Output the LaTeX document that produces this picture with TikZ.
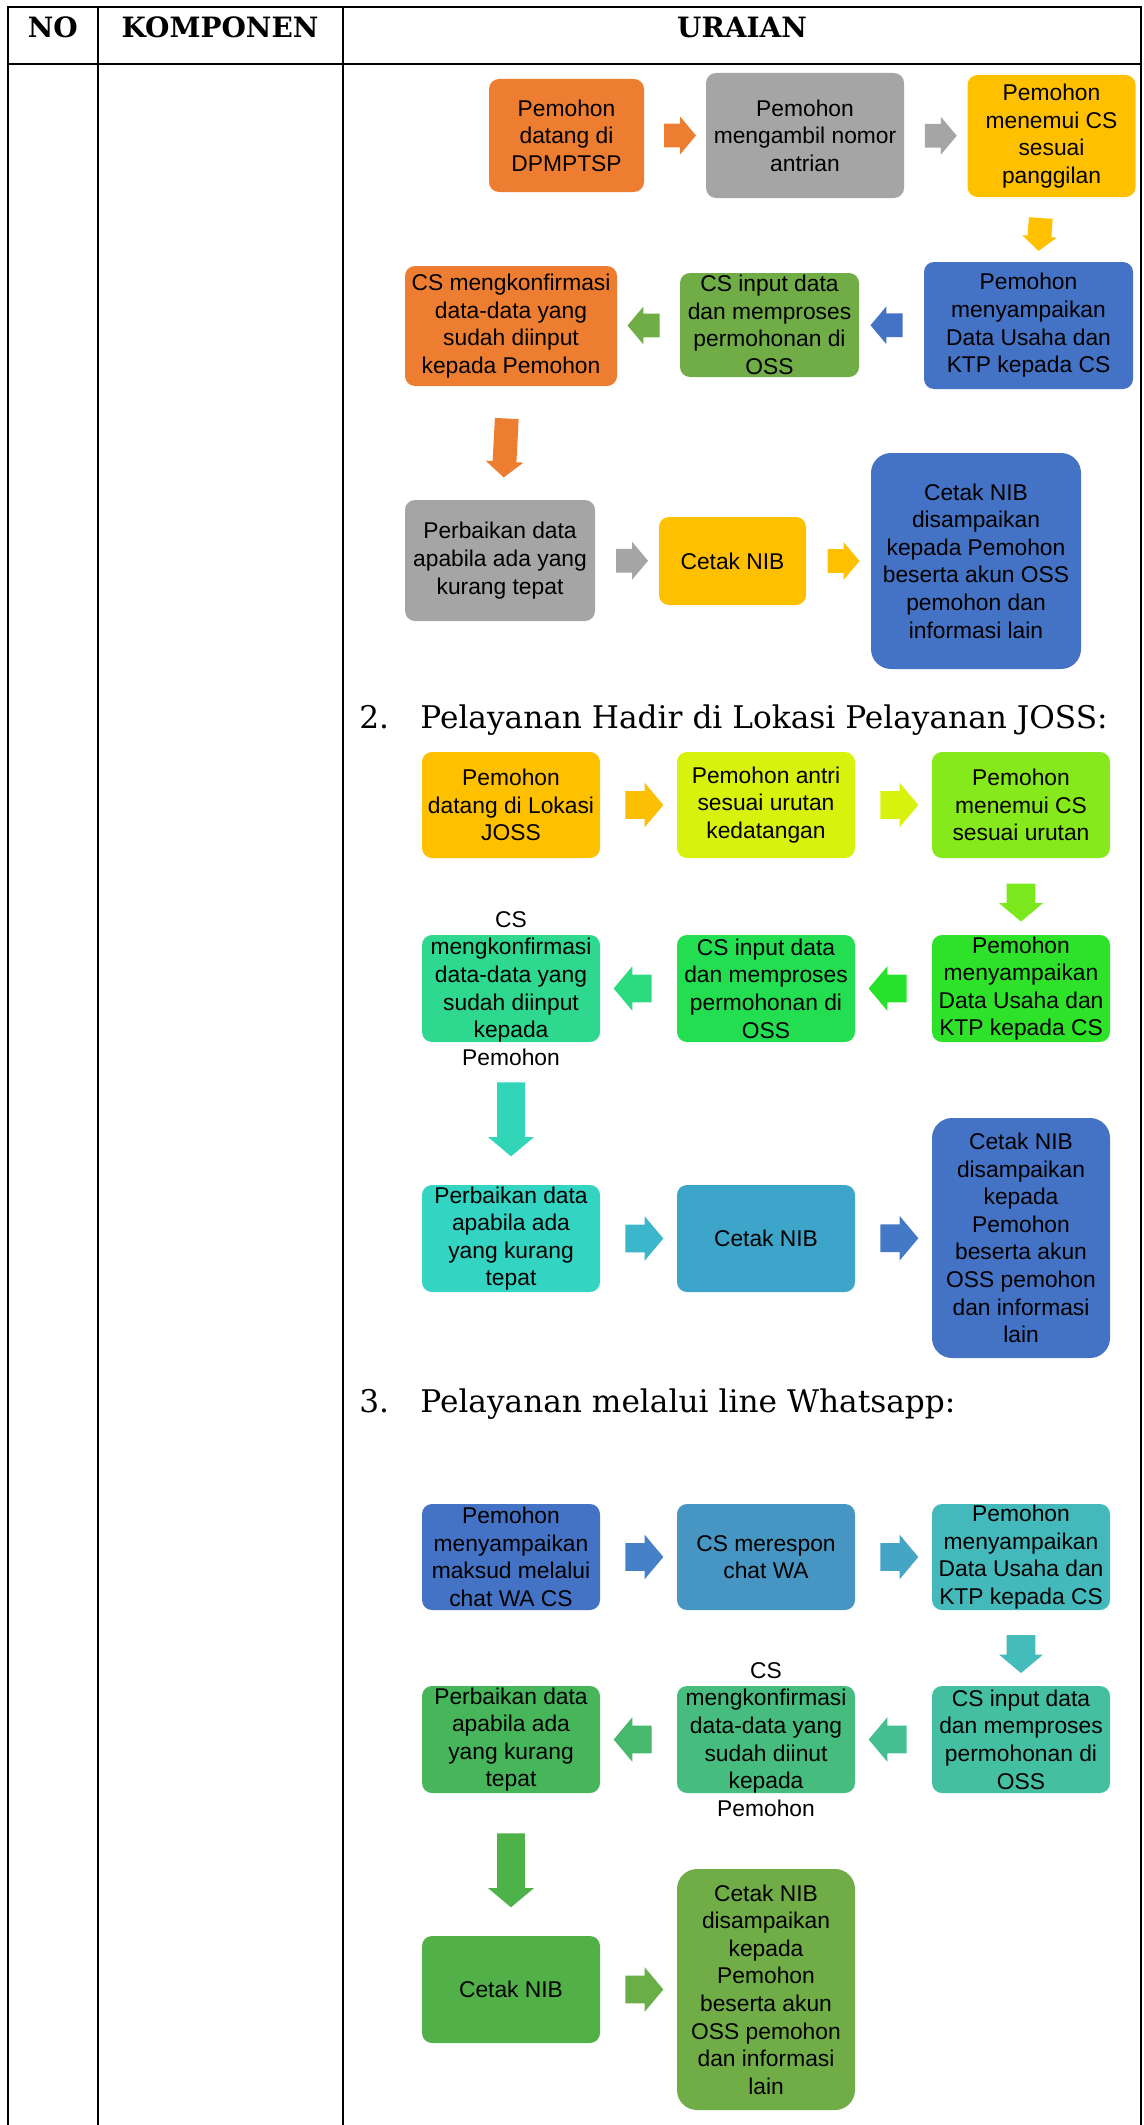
\documentclass[tikz,border=0pt]{standalone}
\usepackage{fontspec}
\setmainfont{Liberation Sans}
\newfontfamily\docserif{DejaVu Serif}
\usetikzlibrary{shapes.arrows,calc}

% office palette
\definecolor{pOrange}{HTML}{ED7D31}
\definecolor{pGray}{HTML}{A5A5A5}
\definecolor{pAmber}{HTML}{FFC000}
\definecolor{pBlue}{HTML}{4472C4}
\definecolor{pGreen}{HTML}{70AD47}
% second flow
\definecolor{sA}{HTML}{FFC000}
\definecolor{sB}{HTML}{D8F20E}
\definecolor{sC}{HTML}{86E91B}
\definecolor{sD}{HTML}{2EE22A}
\definecolor{sE}{HTML}{23DE50}
\definecolor{sF}{HTML}{2ED88E}
\definecolor{sG}{HTML}{33D4C2}
\definecolor{sH}{HTML}{3DA4CA}
\definecolor{sI}{HTML}{4472C4}
\definecolor{saA}{HTML}{FDBF06}
\definecolor{saB}{HTML}{D9F20D}
\definecolor{saC}{HTML}{7BE81D}
\definecolor{saD}{HTML}{26E22A}
\definecolor{saE}{HTML}{2CDA7F}
\definecolor{saF}{HTML}{33D5B8}
\definecolor{saG}{HTML}{3BB6CB}
\definecolor{saH}{HTML}{4379C6}
% third flow
\definecolor{tA}{HTML}{4472C4}
\definecolor{tB}{HTML}{4795C2}
\definecolor{tC}{HTML}{43B9BB}
\definecolor{tD}{HTML}{44BFA2}
\definecolor{tE}{HTML}{46BC7E}
\definecolor{tF}{HTML}{47B65A}
\definecolor{tG}{HTML}{51B048}
\definecolor{tH}{HTML}{70AD47}
\definecolor{taA}{HTML}{4680C6}
\definecolor{taB}{HTML}{45A5C5}
\definecolor{taC}{HTML}{44BCBC}
\definecolor{taD}{HTML}{45BE91}
\definecolor{taE}{HTML}{48B86C}
\definecolor{taF}{HTML}{4DB24A}
\definecolor{taG}{HTML}{6AAE47}

\tikzset{
  flowbox/.style={rectangle, draw=none, rounded corners=5pt, inner sep=0pt},
  tallbox/.style={flowbox, rounded corners=10pt},
  boxtext/.style={align=center, inner sep=0pt, text=black,
                  font=\fontsize{11.4}{13.8}\selectfont},
  headtext/.style={anchor=base, inner sep=0pt, font=\docserif\bfseries\fontsize{14}{16}\selectfont},
  sectext/.style={anchor=base west, inner sep=0pt, font=\docserif\fontsize{15.6}{18}\selectfont},
  % block arrow: the shaft width is twice the inner ysep
  blockarrow/.style={single arrow, draw=none, inner xsep=0pt,
                     single arrow head indent=0pt, single arrow tip angle=100},
  arrowS/.style={blockarrow, inner ysep=5.75pt, minimum height=16pt, minimum width=18.5pt, single arrow head extend=3.5pt},
  arrowSd/.style={blockarrow, inner ysep=5.75pt, minimum height=16.5pt, minimum width=17pt, single arrow head extend=2.75pt},
  arrowSl/.style={blockarrow, inner ysep=5.75pt, minimum height=29.5pt, minimum width=18.5pt, single arrow head extend=3.5pt},
  arrowM/.style={blockarrow, inner ysep=6.75pt, minimum height=19pt, minimum width=22pt, single arrow head extend=4.25pt},
  arrowMd/.style={blockarrow, inner ysep=7pt, minimum height=19pt, minimum width=21.5pt, single arrow head extend=3.75pt},
  arrowL/.style={blockarrow, inner ysep=6.75pt, minimum height=37pt, minimum width=22.5pt, single arrow head extend=4.5pt},
  rule/.style={line width=1pt, black},
}

% box with fixed size; its text is set separately so that it may overflow
\newcommand\stepnode[7][flowbox]{%
  \node[#1, fill=#6, minimum width=#4*0.5pt, minimum height=#5*0.5pt] (#2) at #3 {};
  \node[boxtext] (#2-t) at (#2) {#7};}

\begin{document}
\begin{tikzpicture}[x=0.5pt, y=-0.5pt]
\useasboundingbox (0,0) rectangle (1144,2125);

% table frame
\draw[rule] (8,2125) -- (8,7) -- (1141,7) -- (1141,2125);
\draw[rule] (97.5,7) -- (97.5,2125);
\draw[rule] (343,7) -- (343,2125);
\draw[line width=1.4pt] (8,64) -- (1141,64);
\node[headtext] (hNo) at (52.75,38) {NO};
\node[headtext] (hKomp) at (220,38) {KOMPONEN};
\node[headtext] (hUrai) at (742,38) {URAIAN};

% ---------- flow 1 ----------
\stepnode{a1}{(566.5,135.5)}{155}{113}{pOrange}{Pemohon\\datang di\\DPMPTSP}
\stepnode{a2}{(805,135.5)}{198}{125}{pGray}{Pemohon\\mengambil nomor\\antrian}
\stepnode{a3}{(1051.5,136)}{168}{122}{pAmber}{Pemohon\\menemui CS\\sesuai\\panggilan}
\stepnode{a4}{(1028.5,325.5)}{209}{127}{pBlue}{Pemohon\\menyampaikan\\Data Usaha dan\\KTP kepada CS}
\stepnode{a5}{(769.5,325)}{179}{104}{pGreen}{CS input data\\dan memproses\\permohonan di\\OSS}
\stepnode{a6}{(511,326)}{212}{120}{pOrange}{CS mengkonfirmasi\\data-data yang\\sudah diinput\\kepada Pemohon}
\stepnode{a7}{(500,560.5)}{190}{121}{pGray}{Perbaikan data\\apabila ada yang\\kurang tepat}
\stepnode{a8}{(732.5,561)}{147}{88}{pAmber}{Cetak NIB}
\stepnode[tallbox]{a9}{(976,561)}{210}{216}{pBlue}{Cetak NIB\\disampaikan\\kepada Pemohon\\beserta akun OSS\\pemohon dan\\informasi lain}

\node[arrowS, fill=pOrange] (ar1) at ($(a1.east)!0.5!(a2.west)$) {};
\node[arrowS, fill=pGray] (ar2) at ($(a2.east)!0.5!(a3.west)$) {};
\node[arrowSd, fill=pAmber, rotate=-94] (ar3) at ($(a3.south)!0.5!(a4.north)$) {};
\node[arrowS, fill=pBlue, rotate=180] (ar4) at ($(a4.west)!0.5!(a5.east)$) {};
\node[arrowS, fill=pGreen, rotate=180] (ar5) at ($(a5.west)!0.5!(a6.east)$) {};
\node[arrowSl, fill=pOrange, rotate=-93] (ar6) at ($(a6.south)!0.5!(a7.north)$) {};
\node[arrowS, fill=pGray] (ar7) at ($(a7.east)!0.5!(a8.west)$) {};
\node[arrowS, fill=pAmber] (ar8) at ($(a8.east)!0.5!(a9.west)$) {};

% ---------- flow 2 ----------
\node[sectext] (n2) at (359,728) {2.};
\node[sectext] (t2) at (420,728) {Pelayanan Hadir di Lokasi Pelayanan JOSS:};

\stepnode{b1}{(511,805)}{178}{106}{sA}{Pemohon\\datang di Lokasi\\JOSS}
\stepnode{b2}{(766,805)}{178}{106}{sB}{Pemohon antri\\sesuai urutan\\kedatangan}
\stepnode{b3}{(1021,805)}{178}{106}{sC}{Pemohon\\menemui CS\\sesuai urutan}
\stepnode{b4}{(1021,988.5)}{178}{107}{sD}{Pemohon\\menyampaikan\\Data Usaha dan\\KTP kepada CS}
\stepnode{b5}{(766,988.5)}{178}{107}{sE}{CS input data\\dan memproses\\permohonan di\\OSS}
\stepnode{b6}{(511,988.5)}{178}{107}{sF}{CS\\mengkonfirmasi\\data-data yang\\sudah diinput\\kepada\\Pemohon}
\stepnode{b7}{(511,1238.5)}{178}{107}{sG}{Perbaikan data\\apabila ada\\yang kurang\\tepat}
\stepnode{b8}{(766,1238.5)}{178}{107}{sH}{Cetak NIB}
\stepnode[tallbox]{b9}{(1021,1238)}{178}{240}{sI}{Cetak NIB\\disampaikan\\kepada\\Pemohon\\beserta akun\\OSS pemohon\\dan informasi\\lain}

\node[arrowM, fill=saA] (br1) at ($(b1.east)!0.5!(b2.west)$) {};
\node[arrowM, fill=saB] (br2) at ($(b2.east)!0.5!(b3.west)$) {};
\node[arrowMd, fill=saC, rotate=-90] (br3) at ($(b3.south)!0.5!(b4.north)$) {};
\node[arrowM, fill=saD, rotate=180] (br4) at ($(b4.west)!0.5!(b5.east)$) {};
\node[arrowM, fill=saE, rotate=180] (br5) at ($(b5.west)!0.5!(b6.east)$) {};
\node[arrowL, fill=saF, rotate=-90] (br6) at ($(b6.south)!0.5!(b7.north)$) {};
\node[arrowM, fill=saG] (br7) at ($(b7.east)!0.5!(b8.west)$) {};
\node[arrowM, fill=saH] (br8) at ($(b8.east)!0.5!(b9.west)$) {};

% ---------- flow 3 ----------
\node[sectext] (n3) at (359,1412) {3.};
\node[sectext] (t3) at (420,1412) {Pelayanan melalui line Whatsapp:};

\stepnode{c1}{(511,1557)}{178}{106}{tA}{Pemohon\\menyampaikan\\maksud melalui\\chat WA CS}
\stepnode{c2}{(766,1557)}{178}{106}{tB}{CS merespon\\chat WA}
\stepnode{c3}{(1021,1557)}{178}{106}{tC}{Pemohon\\menyampaikan\\Data Usaha dan\\KTP kepada CS}
\stepnode{c4}{(1021,1739.5)}{178}{107}{tD}{CS input data\\dan memproses\\permohonan di\\OSS}
\stepnode{c5}{(766,1739.5)}{178}{107}{tE}{CS\\mengkonfirmasi\\data-data yang\\sudah diinut\\kepada\\Pemohon}
\stepnode{c6}{(511,1739.5)}{178}{107}{tF}{Perbaikan data\\apabila ada\\yang kurang\\tepat}
\stepnode{c7}{(511,1989.5)}{178}{107}{tG}{Cetak NIB}
\stepnode[tallbox]{c8}{(766,1989.5)}{178}{241}{tH}{Cetak NIB\\disampaikan\\kepada\\Pemohon\\beserta akun\\OSS pemohon\\dan informasi\\lain}

\node[arrowM, fill=taA] (cr1) at ($(c1.east)!0.5!(c2.west)$) {};
\node[arrowM, fill=taB] (cr2) at ($(c2.east)!0.5!(c3.west)$) {};
\node[arrowMd, fill=taC, rotate=-90] (cr3) at ($(c3.south)!0.5!(c4.north)$) {};
\node[arrowM, fill=taD, rotate=180] (cr4) at ($(c4.west)!0.5!(c5.east)$) {};
\node[arrowM, fill=taE, rotate=180] (cr5) at ($(c5.west)!0.5!(c6.east)$) {};
\node[arrowL, fill=taF, rotate=-90] (cr6) at ($(c6.south)!0.5!(c7.north)$) {};
\node[arrowM, fill=taG] (cr7) at ($(c7.east)!0.5!(c8.west)$) {};
\end{tikzpicture}
\end{document}
